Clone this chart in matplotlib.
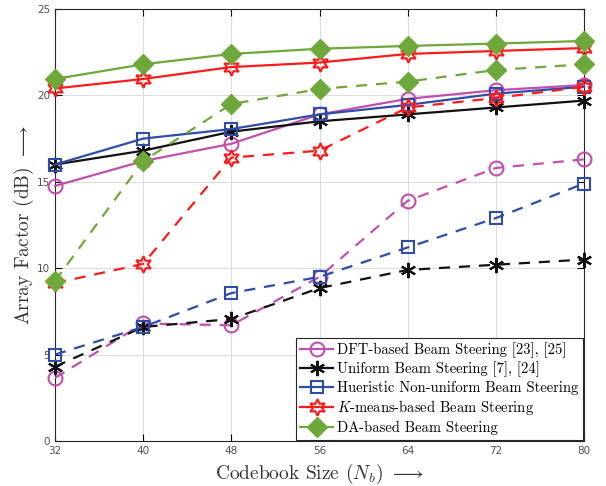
import matplotlib
matplotlib.use("Agg")
import matplotlib.pyplot as plt
import numpy as np

plt.rcParams['mathtext.fontset'] = 'cm'

codebook = [32, 40, 48, 56, 64, 72, 80]

dft_solid = [14.76, 16.2, 17.2, 18.9, 19.8, 20.3, 20.6]
dft_dash = [3.65, 6.8, 6.7, 9.5, 13.9, 15.8, 16.3]
uni_solid = [16.0, 16.8, 17.9, 18.5, 18.9, 19.3, 19.7]
uni_dash = [4.3, 6.6, 7.06, 8.85, 9.9, 10.2, 10.5]
heu_solid = [16.0, 17.5, 18.05, 18.9, 19.45, 20.1, 20.5]
heu_dash = [5.0, 6.6, 8.56, 9.5, 11.2, 12.9, 14.9]
km_solid = [20.4, 20.95, 21.64, 21.9, 22.4, 22.57, 22.74]
km_dash = [9.14, 10.25, 16.4, 16.8, 19.3, 19.85, 20.5]
da_solid = [20.95, 21.8, 22.4, 22.7, 22.86, 23.0, 23.15]
da_dash = [9.26, 16.2, 19.5, 20.37, 20.8, 21.47, 21.8]

labels = ["DFT-based Beam Steering [23], [25]",
          "Uniform Beam Steering [7], [24]",
          "Hueristic Non-uniform Beam Steering",
          "$K$-means-based Beam Steering",
          "DA-based Beam Steering"]

c_mag = '#C050B0'
c_blk = '#111111'
c_blu = '#2E4DA8'
c_red = '#FF1A1A'
c_grn = '#6EA83A'

fig = plt.figure(figsize=(6.06, 4.86), dpi=100)
ax = fig.add_axes([0.0908, 0.0926, 0.8729, 0.8889])

lw = 1.6
series = [
    (dft_solid, dft_dash, c_mag, dict(marker='o', ms=10, mfc='none', mew=1.5)),
    (uni_solid, uni_dash, c_blk, dict(marker=(6, 2, 0), ms=11, mew=1.5)),
    (heu_solid, heu_dash, c_blu, dict(marker='s', ms=9, mfc='none', mew=1.5)),
    (km_solid, km_dash, c_red, dict(marker=(6, 1, 0), ms=12, mfc='none', mew=1.5)),
    (da_solid, da_dash, c_grn, dict(marker='D', ms=10, mfc=c_grn, mew=1.0)),
]

handles = []
for (s, d, c, mk), lab in zip(series, labels):
    h, = ax.plot(codebook, s, '-', color=c, lw=lw, mec=c, label=lab, **mk, clip_on=False, zorder=3)
    ax.plot(codebook, d, '--', color=c, lw=lw, mec=c, dashes=(5, 4), **mk, clip_on=False, zorder=3)
    handles.append(h)

ax.set_xlim(32, 80)
ax.set_ylim(0, 25)
ax.set_xticks(codebook)
ax.set_yticks([0, 5, 10, 15, 20, 25])
ax.grid(True, color='#DDDDDD', lw=0.8)
ax.set_axisbelow(True)
ax.tick_params(direction='in', top=True, right=True, labelsize=7.5, labelcolor='#505050', length=5, width=0.8)
for sp in ax.spines.values():
    sp.set_color('#262626')
    sp.set_linewidth(0.8)

ax.set_xlabel(r"Codebook Size ($N_b$) $\longrightarrow$", family='cmr10', fontsize=14, color='#333333', labelpad=4)
ax.set_ylabel(r"Array Factor (dB) $\longrightarrow$", family='cmr10', fontsize=14, color='#333333', labelpad=1)

leg = ax.legend(handles=handles, loc='lower right', prop={'family': 'cmr10', 'size': 10.5},
                fancybox=False, edgecolor='#262626', framealpha=1, handlelength=2.2,
                handletextpad=0.3, borderpad=0.3, labelspacing=0.25, borderaxespad=0.1)
leg.get_frame().set_linewidth(0.8)

fig.savefig("out.png", dpi=100)
